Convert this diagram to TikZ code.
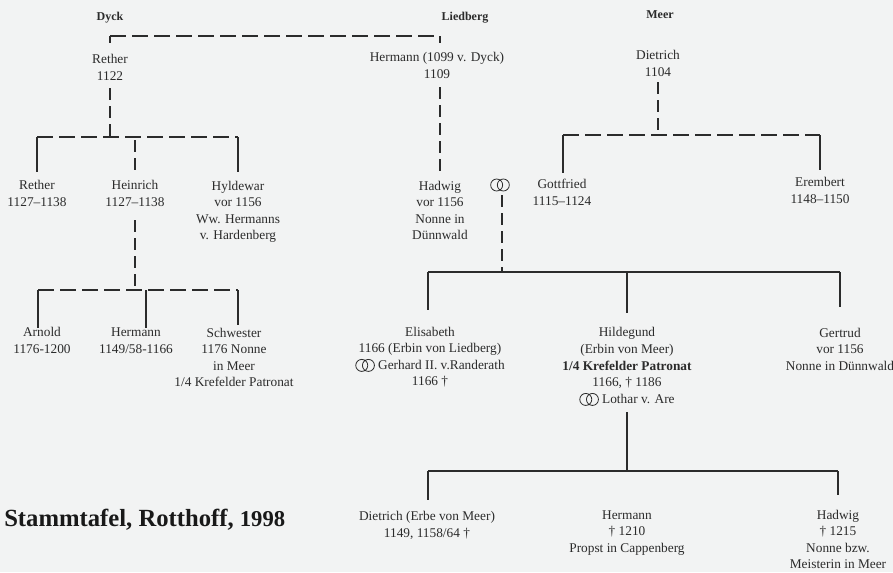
\documentclass[tikz,border=0pt]{standalone}
\usepackage{fontspec}
\setmainfont{Liberation Serif}
\definecolor{bg}{HTML}{F2F3F3}
\definecolor{ink}{HTML}{2B2B2B}
\newcommand\ringsym{\tikz[baseline=-0.6ex]{\draw[line width=0.6pt,ink] (0,0) circle (4.5pt) (5pt,0) circle (4.5pt);}}
\begin{document}
\begin{tikzpicture}[x=0.75pt,y=-0.75pt,
  person/.style={anchor=base, align=center, inner sep=0pt, text=ink, font=\fontsize{10}{12.4}\selectfont},
  head/.style={anchor=base, inner sep=0pt, text=ink, font=\fontsize{9}{11}\selectfont\bfseries},
  ln/.style={draw=ink, line width=0.9pt},
  dsh/.style={ln, dash pattern=on 12pt off 4.5pt},
  dshv/.style={ln, dash pattern=on 9pt off 4.5pt}]
\fill[bg] (0,0) rectangle (893,572);
\useasboundingbox (0,0) rectangle (893,572);

% headers
\node[head] (hdyck) at (110,20) {Dyck};
\node[head] (hlied) at (465,20) {Liedberg};
\node[head] (hmeer) at (660,18) {Meer};

% generation 1 (anchor = baseline of the last line)
\node[person] (rether1) at (110,80) {Rether\\1122};
\node[person] (hermL) at (437,78.5) {Hermann (1099 v. Dyck)\\1109};
\node[person] (dietrichM) at (658,76.5) {Dietrich\\1104};

% generation 2
\node[person] (rether2) at (37,206.5) {Rether\\1127--1138};
\node[person] (heinrich) at (135,206.5) {Heinrich\\1127--1138};
\node[person] (hyldewar) at (238,239.6) {Hyldewar\\vor 1156\\Ww. Hermanns\\v. Hardenberg};
\node[person] (hadwig1) at (440,239.6) {Hadwig\\vor 1156\\Nonne in\\Dünnwald};
\node[inner sep=0pt] (marr) at (500,185) {\ringsym};
\node[person] (gottfried) at (562,205.5) {Gottfried\\1115--1124};
\node[person] (erembert) at (820,203.5) {Erembert\\1148--1150};

% generation 3
\node[person] (arnold) at (42,353.5) {Arnold\\1176-1200};
\node[person] (hermD) at (136,353.5) {Hermann\\1149/58-1166};
\node[person] (schwester) at (234,386.6) {Schwester\\1176 Nonne\\in Meer\\1/4 Krefelder Patronat};
\node[person] (elisabeth) at (430,385.6) {Elisabeth\\1166 (Erbin von Liedberg)\\\ringsym\ Gerhard II. v.Randerath\\1166 \textdagger};
\node[person] (hildegund) at (627,403.1) {Hildegund\\(Erbin von Meer)\\\textbf{1/4 Krefelder Patronat}\\1166, \textdagger\ 1186\\\ringsym\ Lothar v. Are};
\node[person] (gertrud) at (840,370.1) {Gertrud\\vor 1156\\Nonne in Dünnwald};

% generation 4
\node[person] (dietrichE) at (427,537.5) {Dietrich (Erbe von Meer)\\1149, 1158/64 \textdagger};
\node[person] (hermP) at (627,552.1) {Hermann\\\textdagger\ 1210\\Propst in Cappenberg};
\node[person] (hadwig2) at (838,568.6) {Hadwig\\\textdagger\ 1215\\Nonne bzw.\\Meisterin in Meer};

% title
\node[anchor=base west, inner sep=0pt, text=black!90, font=\fontsize{18.5}{22}\selectfont\bfseries] (title) at (4,526) {Stammtafel, Rotthoff, {\fontsize{17}{20}\selectfont 1998}};

% junction coordinates
\coordinate (tA) at (110,36); \coordinate (tB) at (440,36);
\coordinate (r1d) at (110,88); \coordinate (r1b) at (110,137);
\coordinate (b1L) at (37,137); \coordinate (b1H) at (135,137); \coordinate (b1R) at (238,137);
\coordinate (h1d) at (135,220); \coordinate (h1b) at (135,290);
\coordinate (b2L) at (38,290); \coordinate (b2H) at (146,290); \coordinate (b2R) at (238,290);
\coordinate (hLd) at (440,87); \coordinate (hLe) at (440,172);
\coordinate (dMd) at (658,82); \coordinate (dMb) at (658,135);
\coordinate (b3L) at (563,135); \coordinate (b3R) at (820,135);
\coordinate (mD) at (502,195); \coordinate (mB) at (502,272);
\coordinate (b4L) at (428,272); \coordinate (b4H) at (627,272); \coordinate (b4R) at (840,272);
\coordinate (hgd) at (627,412); \coordinate (hgb) at (627,471);
\coordinate (b5L) at (428,471); \coordinate (b5R) at (838,471);

% Dyck - Liedberg
\draw[ln] (tA) -- ++(0,7);
\draw[dsh] (tA) -- (tB);
\draw[ln] (tB) -- ++(0,7);
\draw[dshv] (r1d) -- (r1b);
\draw[dsh] (b1L) -- (b1R);
\draw[ln] (b1L) -- (b1L |- 0,172);
\draw[dshv] (b1H) ++(0,3) -- (b1H |- 0,172);
\draw[ln] (b1R) -- (b1R |- 0,172);
\draw[dshv] (h1d) -- (h1b);
\draw[dsh] (b2L) -- (b2R);
\draw[ln] (b2L) -- (b2L |- 0,328);
\draw[ln] (b2H) -- (b2H |- 0,328);
\draw[ln] (b2R) -- (b2R |- 0,325);
\draw[dshv] (hLd) -- (hLe);

% Meer
\draw[dshv] (dMd) -- (dMb);
\draw[dsh] (b3L) -- (b3R);
\draw[ln] (b3L) -- (b3L |- 0,173);
\draw[ln] (b3R) -- (b3R |- 0,170);

% marriage Hadwig - Gottfried
\draw[dshv] (mD) -- (mB);
\draw[ln] (b4L) -- (b4R);
\draw[ln] (b4L) -- (b4L |- 0,310);
\draw[ln] (b4H) -- (b4H |- 0,313);
\draw[ln] (b4R) -- (b4R |- 0,307);

% Hildegund children
\draw[ln] (hgd) -- (hgb);
\draw[ln] (b5L) -- (b5R);
\draw[ln] (b5L) -- (b5L |- 0,500);
\draw[ln] (b5R) -- (b5R |- 0,495);
\end{tikzpicture}
\end{document}
